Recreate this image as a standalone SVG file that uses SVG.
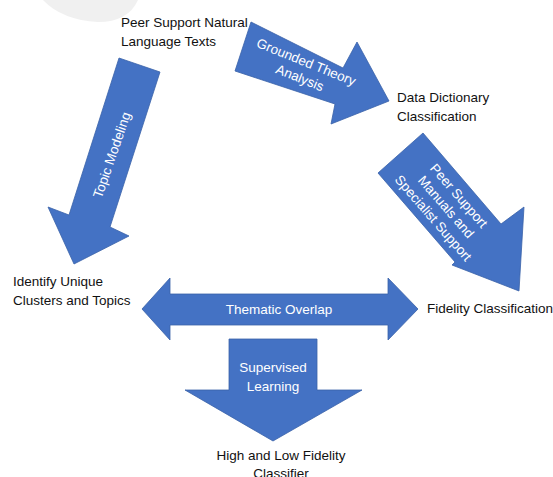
<svg xmlns="http://www.w3.org/2000/svg" width="553" height="477" viewBox="0 0 553 477">
  <style>
    .lbl { font-family: "Liberation Sans", Arial, sans-serif; font-size: 13.5px; fill: #111111; }
    .in { font-family: "Liberation Sans", Arial, sans-serif; font-size: 13.5px; fill: #ffffff; text-anchor: middle; }
    .arrow { fill: #4472c4; stroke: #3a62a8; stroke-width: 0.8; stroke-linejoin: miter; }
  </style>
  <rect x="0" y="0" width="553" height="477" fill="#ffffff"/>
  <path d="M 43 0 Q 62 20 98 22 Q 128 22 138 0 Z" fill="#f0f0f0"/>

  <g id="connectors">
    <g id="arrow-topic-modeling">
      <polygon class="arrow" points="119,58 160,72 110,227 129,236 74,264 48,207 69,215"/>
      <text class="in" transform="translate(112,155) rotate(-71)" y="4.5">Topic Modeling</text>
    </g>
    <g id="arrow-grounded-theory">
      <polygon class="arrow" points="251,22 343,68 357,42 389,101 331,124 335,104 235,71"/>
      <g transform="translate(303,70) rotate(22)">
        <text class="in" y="-4">Grounded Theory</text>
        <text class="in" y="13">Analysis</text>
      </g>
    </g>
    <g id="arrow-peer-support">
      <polygon class="arrow" points="423,133 501,224 524,207 519,291 452,265 455,262 378,173"/>
      <g transform="translate(446,207) rotate(49)">
        <text class="in" y="-12.5">Peer Support</text>
        <text class="in" y="4.5">Manuals and</text>
        <text class="in" y="21.5">Specialist Support</text>
      </g>
    </g>
    <g id="arrow-thematic-overlap">
      <polygon class="arrow" points="142,309 170,278 170,294 388,294 388,278 418,309 388,340 388,325 170,325 170,340"/>
      <text class="in" x="279" y="314">Thematic Overlap</text>
    </g>
    <g id="arrow-supervised-learning">
      <polygon class="arrow" points="229,339 317,339 317,390 362,390 273,441 185,390 229,390"/>
      <text class="in" x="273" y="372">Supervised</text>
      <text class="in" x="273" y="391">Learning</text>
    </g>
  </g>

  <g id="node-peer-texts">
    <text class="lbl" x="121" y="27">Peer Support Natural</text>
    <text class="lbl" x="121" y="46">Language Texts</text>
  </g>
  <g id="node-data-dictionary">
    <text class="lbl" x="397" y="102">Data Dictionary</text>
    <text class="lbl" x="397" y="121">Classification</text>
  </g>
  <g id="node-identify-clusters">
    <text class="lbl" x="13" y="286">Identify Unique</text>
    <text class="lbl" x="13" y="305">Clusters and Topics</text>
  </g>
  <g id="node-fidelity-classification">
    <text class="lbl" x="427" y="313">Fidelity Classification</text>
  </g>
  <g id="node-classifier">
    <text class="lbl" x="281" y="460" text-anchor="middle">High and Low Fidelity</text>
    <text class="lbl" x="281" y="478" text-anchor="middle">Classifier</text>
  </g>
</svg>
